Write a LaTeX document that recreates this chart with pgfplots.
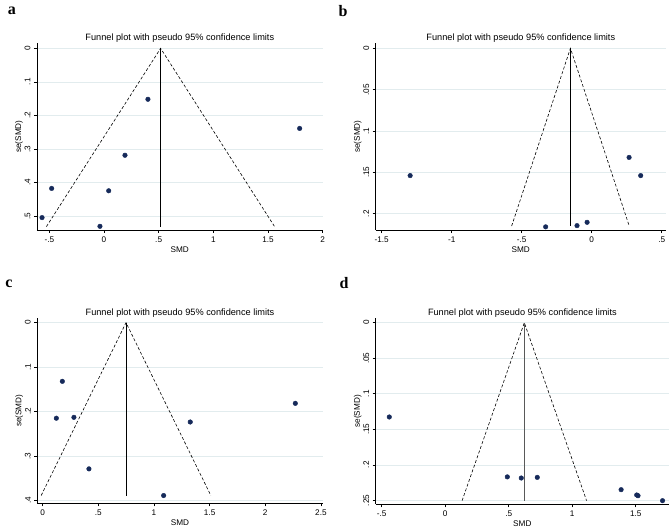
\documentclass[border=0pt]{standalone}
\usepackage{fontspec}
\setmainfont{Liberation Sans}
\newfontfamily\letterfont{Liberation Serif}
\usepackage{pgfplots}
\pgfplotsset{compat=1.18}

\definecolor{navy}{RGB}{22,42,90}
\definecolor{gridc}{RGB}{226,236,238}

\pgfplotsset{
  funnel/.style={
    scale only axis, anchor=center,
    axis x line*=bottom, axis y line*=left,
    y dir=reverse,
    ymajorgrids, grid style={gridc, line width=0.6pt},
    tick align=outside, major tick length=3pt,
    every tick/.style={black, line width=0.6pt},
    axis line style={black, line width=0.7pt},
    tick label style={font=\fontsize{8.2}{9}\selectfont},
    yticklabel style={rotate=90, anchor=south},
    label style={font=\fontsize{8.2}{9}\selectfont},
    xlabel style={yshift=2.5pt},
    ylabel style={yshift=-5pt},
    title style={font=\fontsize{9.2}{10}\selectfont, yshift=-9pt},
    title={Funnel plot with pseudo 95\% confidence limits},
    xlabel={SMD}, ylabel={se(SMD)},
    clip=false,
  },
  pts/.style={only marks, mark=*, mark size=2.3pt, mark options={fill=navy, draw=navy}},
  fun/.style={black, line width=0.6pt, dash pattern=on 3pt off 2pt},
  mid/.style={black, line width=0.7pt},
}

\begin{document}
\begin{tikzpicture}
\path[use as bounding box] (0pt,0pt) rectangle (669pt,530pt);

% ---- a ----
\begin{axis}[funnel, at={(179.8pt,393.35pt)}, width=285.6pt, height=186.7pt,
    xmin=-0.613, xmax=2.0, ymin=-0.015, ymax=0.542,
    xtick={-0.5,0,0.5,1,1.5,2}, xticklabels={-.5,0,.5,1,1.5,2},
    ytick={0,0.1,0.2,0.3,0.4,0.5}, yticklabels={0,.1,.2,.3,.4,.5}]
\addplot[fun] coordinates {(-0.527,0.532) (0.518,0) (1.561,0.532)};
\addplot[mid] coordinates {(0.518,0) (0.518,0.532)};
\addplot[pts] coordinates {
  (0.402,0.152) (1.790,0.239) (0.192,0.319) (-0.479,0.418)
  (0.043,0.425) (-0.567,0.505) (-0.037,0.531)
};
\end{axis}

% ---- b ----
\begin{axis}[funnel, at={(520.8pt,393.35pt)}, width=290.2pt, height=186.7pt,
    xmin=-1.543, xmax=0.53, ymin=-0.006, ymax=0.2198,
    xtick={-1.5,-1,-0.5,0,0.5}, xticklabels={-1.5,-1,-.5,0,.5},
    ytick={0,0.05,0.1,0.15,0.2}, yticklabels={0,.05,.1,.15,.2}]
\addplot[fun] coordinates {(-0.572,0.215) (-0.152,0) (0.268,0.215)};
\addplot[mid] coordinates {(-0.152,0) (-0.152,0.215)};
\addplot[pts] coordinates {
  (-1.297,0.154) (0.267,0.132) (0.350,0.154)
  (-0.329,0.216) (-0.105,0.2145) (-0.033,0.2105)
};
\end{axis}

% ---- c ----
\begin{axis}[funnel, at={(180pt,119.2pt)}, width=285.4pt, height=185pt,
    xmin=-0.048, xmax=2.516, ymin=-0.0099, ymax=0.4065,
    xtick={0,0.5,1,1.5,2,2.5}, xticklabels={0,.5,1,1.5,2,2.5},
    ytick={0,0.1,0.2,0.3,0.4}, yticklabels={0,.1,.2,.3,.4}]
\addplot[fun] coordinates {(-0.013,0.389) (0.749,0) (1.511,0.389)};
\addplot[mid] coordinates {(0.749,0) (0.749,0.389)};
\addplot[pts] coordinates {
  (0.177,0.132) (0.123,0.215) (0.281,0.213) (0.416,0.329)
  (1.087,0.389) (1.326,0.2235) (2.270,0.1815)
};
\end{axis}

% ---- d ----
\begin{axis}[funnel, at={(522.35pt,118.7pt)}, width=293.3pt, height=186pt,
    xmin=-0.547, xmax=1.762, ymin=-0.0062, ymax=0.2556,
    xtick={-0.5,0,0.5,1,1.5}, xticklabels={-.5,0,.5,1,1.5},
    ytick={0,0.05,0.1,0.15,0.2,0.25}, yticklabels={0,.05,.1,.15,.2,.25}]
\addplot[fun] coordinates {(0.133,0.2505) (0.623,0) (1.113,0.2505)};
\addplot[mid, color=black!65] coordinates {(0.623,0) (0.623,0.2505)};
\addplot[pts] coordinates {
  (-0.440,0.1327) (0.489,0.217) (0.599,0.2186) (0.725,0.2177)
  (1.385,0.235) (1.508,0.2425) (1.518,0.2435) (1.711,0.2505)
};
\end{axis}

\node[font=\letterfont\bfseries\fontsize{16}{16}\selectfont] at (12pt,519pt) {a};
\node[font=\letterfont\bfseries\fontsize{16}{16}\selectfont] at (343pt,519pt) {b};
\node[font=\letterfont\bfseries\fontsize{16}{16}\selectfont] at (9pt,246pt) {c};
\node[font=\letterfont\bfseries\fontsize{16}{16}\selectfont] at (344pt,247pt) {d};
\end{tikzpicture}
\end{document}
